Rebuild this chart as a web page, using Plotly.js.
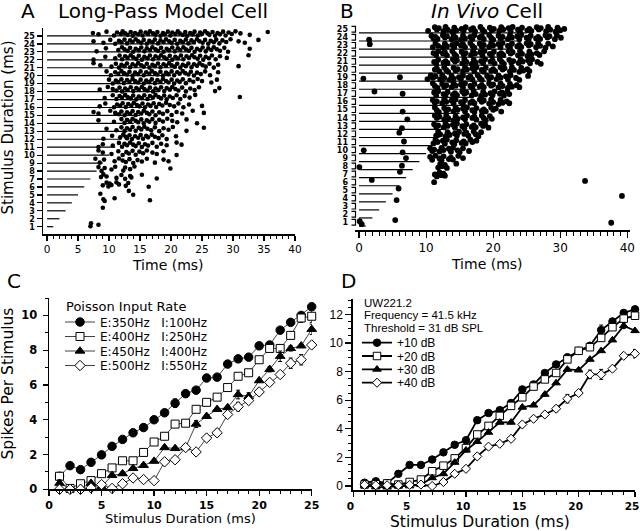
<!DOCTYPE html>
<html><head><meta charset="utf-8">
<script src="https://cdn.plot.ly/plotly-3.0.1.min.js"></script>
<style>html,body{margin:0;padding:0;background:#fff}#chart{width:640px;height:531px}</style>
</head><body><div id="chart"></div>
<script>
// ---------- DATA ----------
const durations = [1,2,3,4,5,6,7,8,9,10,11,12,13,14,15,16,17,18,19,20,21,22,23,24,25];

// Panel A: spike times (ms) per stimulus duration (index 0 = 1 ms)
const spikesA = [
 [7.0,7.1,8.3],
 [],
 [9.0],
 [9.1,9.3,10.9,16.6],
 [8.6,13.2,13.9],
 [9.0,9.6,9.9,10.1,10.4,11.2,11.6,12.7,13.1,16.4],
 [8.7,9.1,9.6,11.2,12.0,12.6,13.4,13.6,15.3,17.7],
 [8.3,8.8,9.3,10.4,11.0,12.3,12.6,13.4,14.1,19.9],
 [7.8,8.5,9.2,10.9,11.6,12.2,12.7,13.3,13.9,14.6,15.3,16.1,17.4,18.8,19.6],
 [8.3,9.0,10.4,11.5,12.2,12.8,13.2,13.8,14.3,14.9,15.5,16.1,17.0,17.7,18.8,20.9],
 [8.3,9.0,10.6,11.6,12.1,12.5,12.9,13.4,13.9,14.3,14.8,15.3,15.8,16.3,17.0,17.7,18.4,19.3,20.9,21.7],
 [9.1,10.5,11.8,12.3,12.7,12.9,13.3,13.7,14.2,14.7,15.1,15.5,16.0,16.3,16.9,17.4,18.0,18.6,19.3,20.8],
 [9.6,11.2,12.0,12.5,12.9,13.4,13.8,14.3,14.8,15.2,15.7,16.2,16.8,17.4,18.1,18.8,19.6,20.3,22.5,25.3],
 [8.3,10.8,12.0,12.5,12.9,13.4,13.8,14.3,14.7,15.2,15.6,16.1,16.5,17.0,17.5,18.1,18.7,19.4,20.2,21.0,22.5,24.2],
 [7.5,8.3,10.2,11.0,11.6,12.0,12.5,12.9,13.4,13.8,14.3,14.7,15.2,15.6,16.1,16.5,17.0,17.5,18.1,18.7,19.4,20.1,20.9,21.8,23.5,25.3],
 [8.5,9.4,10.8,11.3,11.8,12.2,12.7,13.1,13.6,14.0,14.5,14.9,15.4,15.8,16.3,16.7,17.2,17.6,18.1,18.6,19.2,19.8,20.5,21.2,22.0,22.9,25.0],
 [9.3,10.6,11.2,11.7,12.1,12.6,13.0,13.5,13.9,14.4,14.8,15.3,15.7,16.2,16.6,17.1,17.5,18.0,18.4,18.9,19.3,19.8,20.3,20.9,21.5,22.2,23.0,23.9,31.1],
 [8.5,9.8,10.6,11.2,11.7,12.1,12.6,13.0,13.5,13.9,14.4,14.8,15.3,15.7,16.2,16.6,17.1,17.5,18.0,18.4,18.9,19.3,19.8,20.2,20.7,21.2,21.8,22.4,23.1,23.8,24.5,27.1,27.8],
 [10.0,10.6,11.1,11.5,12.0,12.4,12.9,13.3,13.8,14.2,14.7,15.1,15.6,16.0,16.5,16.9,17.4,17.8,18.3,18.7,19.2,19.6,20.1,20.5,21.0,21.4,21.9,22.4,23.0,23.6,24.3,25.0,26.5,27.4],
 [9.6,10.3,11.0,11.5,12.0,12.4,12.9,13.3,13.8,14.2,14.7,15.1,15.6,16.0,16.5,16.9,17.4,17.8,18.3,18.7,19.2,19.6,20.1,20.5,21.0,21.4,21.9,22.3,22.8,23.2,23.7,24.2,24.8,25.5,26.3,27.6],
 [7.5,8.6,10.4,11.1,11.6,12.0,12.5,12.9,13.4,13.8,14.3,14.7,15.2,15.6,16.1,16.5,17.0,17.4,17.9,18.3,18.8,19.2,19.7,20.1,20.6,21.0,21.5,21.9,22.4,22.8,23.3,23.7,24.2,24.6,25.1,25.6,26.2,26.9,27.6,30.9],
 [7.5,9.4,11.0,11.7,12.1,12.6,13.0,13.5,13.9,14.4,14.8,15.3,15.7,16.2,16.6,17.1,17.5,18.0,18.4,18.9,19.3,19.8,20.2,20.7,21.1,21.6,22.0,22.5,22.9,23.4,23.8,24.3,24.7,25.2,25.6,26.1,26.6,27.2,27.9,29.0,32.5],
 [8.0,9.5,11.5,12.1,12.5,13.0,13.4,13.9,14.3,14.8,15.2,15.7,16.1,16.6,17.0,17.5,17.9,18.4,18.8,19.3,19.7,20.2,20.6,21.1,21.5,22.0,22.4,22.9,23.3,23.8,24.2,24.7,25.1,25.6,26.0,26.5,26.9,27.4,27.9,28.6,29.2,32.7],
 [7.5,9.1,10.2,11.0,11.6,12.0,12.5,12.9,13.4,13.8,14.3,14.7,15.2,15.6,16.1,16.5,17.0,17.4,17.9,18.3,18.8,19.2,19.7,20.1,20.6,21.0,21.5,21.9,22.4,22.8,23.3,23.7,24.2,24.6,25.1,25.5,26.0,26.4,26.9,27.3,27.8,28.3,28.9,29.6,30.9,31.9,34.1],
 [7.4,8.3,9.6,10.8,11.3,11.9,12.2,12.6,13.0,13.5,13.8,14.2,14.7,15.1,15.4,15.9,16.3,16.6,17.1,17.5,17.8,18.3,18.7,19.0,19.5,19.9,20.2,20.7,21.1,21.4,21.9,22.3,22.6,23.1,23.5,23.8,24.3,24.7,25.0,25.5,25.9,26.2,26.7,27.1,27.5,27.9,28.4,28.8,29.3,29.8,30.4,31.2,32.7,35.6]
];

// Panel B: in vivo spike times (ms) per stimulus duration (index 0 = 1 ms)
const spikesB = [
 [0.1,0.4,5.4,37.6],
 [],
 [],
 [5.6,39.2],
 [5.9],
 [1.9,11.2,33.7],
 [6.1,11.3,11.6,12.0,12.3,12.6,12.8],
 [0.05,6.4,11.8,12.1,12.4,12.8,13.1,14.5],
 [7.0,10.6,10.9,11.4,12.0,12.3,12.6,13.4,13.7,14.0,14.8,15.5],
 [0.7,6.5,10.6,10.9,11.2,12.0,12.3,12.6,13.4,13.7,14.0,14.7,15.0,15.5,16.4],
 [6.7,11.1,11.4,11.7,12.5,12.8,13.1,13.9,14.2,14.5,15.3,15.6,15.9,16.6,16.9,17.5],
 [6.0,11.5,11.8,12.1,12.9,13.2,13.5,14.3,14.6,14.9,15.7,16.0,16.3,17.1,17.4,17.8,18.2],
 [6.4,11.2,11.5,11.8,12.6,12.9,13.2,14.0,14.3,14.6,15.4,15.7,16.0,16.8,17.1,17.4,18.2,18.5,18.8,19.3],
 [7.2,11.3,11.6,12.0,12.7,13.0,13.3,14.1,14.4,14.7,15.5,15.8,16.1,16.9,17.2,17.5,18.3,18.6,18.9,19.5,19.8],
 [6.5,11.3,11.6,11.9,12.7,13.0,13.3,14.1,14.4,14.7,15.5,15.8,16.1,16.9,17.2,17.5,18.3,18.6,18.9,19.7,20.0,20.4,21.2],
 [11.0,11.3,11.6,12.4,12.7,13.0,13.8,14.1,14.4,15.2,15.5,15.8,16.6,16.9,17.2,18.0,18.3,18.6,19.4,19.7,20.0,20.8,21.1,21.4,22.0,22.4],
 [2.3,6.5,11.2,11.5,11.8,12.6,12.9,13.2,14.0,14.3,14.6,15.4,15.7,16.0,16.8,17.1,17.4,18.2,18.5,18.8,19.6,19.9,20.2,21.0,21.3,21.6,22.1,22.4],
 [11.0,11.3,11.7,12.4,12.7,13.0,13.8,14.1,14.4,15.2,15.5,15.8,16.6,16.9,17.2,18.0,18.3,18.6,19.4,19.7,20.0,20.8,21.1,21.4,22.2,22.5,22.8,23.5,23.9],
 [0.65,6.1,10.2,10.7,11.0,11.4,12.1,12.4,12.7,13.5,13.8,14.1,14.9,15.2,15.5,16.3,16.6,16.9,17.7,18.0,18.3,19.1,19.4,19.7,20.5,20.8,21.1,21.9,22.2,22.6,23.4,23.9,25.2],
 [11.3,11.6,12.0,12.7,13.0,13.3,14.1,14.4,14.7,15.5,15.8,16.1,16.9,17.2,17.5,18.3,18.6,18.9,19.7,20.0,20.3,21.1,21.4,21.7,22.5,22.8,23.1,23.9,24.2,24.5,25.1,25.4],
 [11.2,11.5,11.8,12.6,12.9,13.2,14.0,14.3,14.6,15.4,15.7,16.0,16.8,17.1,17.4,18.2,18.5,18.8,19.6,19.9,20.2,21.0,21.3,21.6,22.4,22.7,23.0,23.8,24.1,24.4,25.2,25.5,25.8,26.6,27.1],
 [11.1,11.5,11.8,12.5,12.8,13.1,13.9,14.2,14.5,15.3,15.6,15.9,16.7,17.0,17.3,18.1,18.4,18.7,19.5,19.8,20.1,20.9,21.2,21.5,22.3,22.6,22.9,23.7,24.0,24.3,25.1,25.4,25.7,26.5,26.9,27.6],
 [1.6,11.0,11.4,11.8,12.5,12.8,13.1,13.9,14.2,14.5,15.2,15.5,15.8,16.6,16.9,17.2,18.0,18.3,18.6,19.4,19.7,20.0,20.8,21.1,21.4,22.2,22.5,22.8,23.6,23.9,24.2,25.0,25.3,25.6,26.4,26.7,27.0,27.8,28.2,28.9],
 [1.5,10.8,11.1,11.4,11.7,12.5,12.8,13.1,13.8,14.1,14.4,15.2,15.5,15.8,16.6,16.9,17.2,18.0,18.3,18.6,19.4,19.7,20.0,20.8,21.1,21.4,22.2,22.5,22.8,23.6,23.9,24.2,25.0,25.3,25.6,26.4,26.7,27.0,27.8,28.1,28.4,29.2,29.5,30.1],
 [10.3,11.3,11.6,11.9,12.6,12.9,13.2,13.9,14.2,14.5,15.3,15.6,15.9,16.7,17.0,17.3,18.1,18.4,18.7,19.5,19.8,20.1,20.9,21.2,21.5,22.3,22.6,22.9,23.7,24.0,24.3,25.1,25.4,25.7,26.5,26.8,27.1,27.9,28.2,28.5,29.3,29.6,30.0,30.6]
];

// Panel C: model cell spikes per stimulus
const durC = [1,2,3,4,5,6,7,8,9,10,11,12,13,14,15,16,17,18,19,20,21,22,23,24,25];
const legendTitleC = 'Poisson Input Rate';
const namesC = ['E:350Hz\u00a0\u00a0\u00a0I:100Hz','E:400Hz\u00a0\u00a0\u00a0I:250Hz','E:450Hz\u00a0\u00a0\u00a0I:400Hz','E:500Hz\u00a0\u00a0\u00a0I:550Hz'];
const cE350 = [0.75,1.36,1.13,1.55,1.98,2.47,2.87,3.25,3.55,4.0,4.4,4.95,5.5,5.7,6.4,6.45,7.2,7.5,7.6,8.25,8.3,9.15,9.6,10.0,10.5];
const cE400 = [0.75,0.05,0.32,0.5,0.9,1.23,1.64,1.64,2.12,2.72,3.05,3.75,3.8,4.6,5.0,5.3,5.85,6.5,6.7,7.45,8.1,8.1,8.85,9.85,9.95];
const cE450 = [0.35,0.05,0.05,0.35,0.15,0.8,0.9,1.2,1.38,1.62,2.4,2.35,2.4,3.75,4.2,4.6,4.7,5.45,5.35,6.25,6.9,7.65,8.1,8.25,9.2];
const cE500 = [0.0,0.0,0.0,0.08,0.27,0.05,0.32,0.65,0.56,0.5,1.58,1.7,2.4,2.15,2.95,3.25,4.3,4.75,5.1,5.6,6.15,6.6,7.25,7.45,8.3];
const cE350err = [0.1,0.1,0.1,0.1,0.1,0.1,0.1,0.1,0.1,0.1,0.1,0.25,0.1,0.15,0.2,0.1,0.1,0.1,0.1,0.1,0.1,0.1,0.1,0.1,0.1];
const cE400err = [0.1,0.1,0.1,0.1,0.1,0.1,0.1,0.1,0.1,0.1,0.1,0.1,0.1,0.1,0.1,0.1,0.1,0.1,0.1,0.1,0.1,0.1,0.2,0.25,0.35];
const cE450err = [0.2,0.1,0.1,0.1,0.1,0.1,0.1,0.1,0.1,0.1,0.1,0.1,0.1,0.2,0.1,0.1,0.1,0.25,0.2,0.1,0.15,0.3,0.15,0.1,0.3];
const cE500err = [0.05,0.05,0.05,0.05,0.05,0.05,0.05,0.05,0.1,0.1,0.1,0.15,0.1,0.1,0.15,0.2,0.15,0.25,0.15,0.15,0.15,0.1,0.3,0.3,0.1];

// Panel D: in vivo spikes per stimulus
const durD = [1,2,3,4,5,6,7,8,9,10,11,12,13,14,15,16,17,18,19,20,21,22,23,24,25];
const legendTitleD = ['UW221.2','Frequency = 41.5 kHz','Threshold = 31 dB SPL'];
const namesD = ['+10 dB','+20 dB','+30 dB','+40 dB'];
const d10 = [0.23,0.33,0.2,0.85,1.47,1.47,1.85,2.35,2.88,3.2,4.6,5.1,5.3,5.8,6.75,7.1,7.9,8.5,9.0,9.45,9.8,10.9,11.5,12.1,12.35];
const d20 = [0.1,0.12,0.18,0.1,0.28,0.45,1.03,1.42,1.93,2.65,3.6,4.2,4.9,5.6,6.2,6.95,7.45,7.9,8.85,9.45,9.7,10.35,11.1,11.7,11.9];
const d30 = [0.05,-0.07,-0.08,0.0,0.0,0.1,0.57,0.85,1.65,2.5,3.1,3.75,4.45,4.45,5.5,5.65,6.4,7.2,8.15,8.1,8.85,9.45,10.2,11.2,10.85];
const d40 = [0.08,0.05,0.05,0.05,0.08,0.1,0.0,0.28,0.85,1.2,2.07,2.75,2.95,3.3,4.3,4.7,5.0,5.4,6.1,6.5,7.8,7.8,8.2,9.1,9.25];
const d10err = [0.1,0.1,0.1,0.1,0.1,0.1,0.1,0.1,0.1,0.1,0.1,0.1,0.1,0.1,0.1,0.1,0.1,0.1,0.1,0.1,0.1,0.35,0.1,0.1,0.1];
const d20err = [0.1,0.1,0.1,0.1,0.1,0.1,0.1,0.1,0.1,0.1,0.1,0.1,0.15,0.1,0.1,0.1,0.2,0.1,0.1,0.1,0.1,0.1,0.1,0.2,0.25];
const d30err = [0.1,0.1,0.1,0.1,0.1,0.1,0.1,0.1,0.1,0.1,0.1,0.1,0.1,0.1,0.1,0.1,0.1,0.1,0.1,0.1,0.1,0.1,0.1,0.2,0.1];
const d40err = [0.05,0.05,0.05,0.05,0.05,0.05,0.05,0.05,0.1,0.1,0.1,0.1,0.1,0.1,0.1,0.1,0.15,0.2,0.3,0.15,0.3,0.35,0.15,0.1,0.3];

// ---------- LAYOUT HELPERS ----------
const W = 640, H = 531;
const px = v => v / W;          // pixel -> paper x
const py = v => 1 - v / H;      // pixel -> paper y
const FONT = 'DejaVu Sans';
// trial (sub-row) offsets within each raster row
const jitterA = [0.06, 0.44, 0.24, 0.58, 0.32, 0.14, 0.50, 0.02, 0.38, 0.20, 0.54];
const jitterB = [0.14, -0.24, 0.28, -0.06, -0.30, 0.20, -0.14, 0.04, -0.20, 0.26, -0.02];
const lineOffsetB = -0.46;

function rasterTrace(spikes, jit, xa, ya, size) {
  const xs = [], ys = [];
  spikes.forEach((row, i) => row.forEach((t, j) => {
    xs.push(t); ys.push(durations[i] + jit[(j + 4 * i) % jit.length]);
  }));
  return {type:'scatter', mode:'markers', x:xs, y:ys, xaxis:xa, yaxis:ya, showlegend:false, hoverinfo:'skip',
    marker:{color:'black', size:size, line:{width:0}}, cliponaxis:false};
}
function stimLines(off, xa, ya, w) {
  const xs = [], ys = [];
  durations.forEach(d => { xs.push(0, d, null); ys.push(d + off, d + off, null); });
  return {type:'scatter', mode:'lines', x:xs, y:ys, xaxis:xa, yaxis:ya, showlegend:false, hoverinfo:'skip',
    line:{color:'black', width:w}};
}
function series(x, y, err, name, sym, fill, size, xa, ya, lg, lw, lc) {
  return {type:'scatter', mode:'lines+markers', x:x, y:y, name:name, xaxis:xa, yaxis:ya, legend:lg,
    line:{color:lc, width:lw}, cliponaxis:false,
    marker:{symbol:sym, size:size, color:fill, line:{color:'black', width:1}},
    error_y:{type:'data', array:err, visible:true, color:'black', thickness:1, width:2}};
}

const traces = [
  stimLines(0, 'x', 'y', 1.2),
  rasterTrace(spikesA, jitterA, 'x', 'y', 4.6),
  stimLines(lineOffsetB, 'x2', 'y2', 1.2),
  rasterTrace(spikesB, jitterB, 'x2', 'y2', 5.8),
  series(durC, cE350, cE350err, namesC[0], 'circle', 'black', 8.5, 'x3', 'y3', 'legend', 1, '#444'),
  series(durC, cE400, cE400err, namesC[1], 'square', 'white', 8, 'x3', 'y3', 'legend2', 1, '#444'),
  series(durC, cE450, cE450err, namesC[2], 'triangle-up', 'black', 8.5, 'x3', 'y3', 'legend3', 1, '#444'),
  series(durC, cE500, cE500err, namesC[3], 'diamond', 'white', 8, 'x3', 'y3', 'legend4', 1, '#444'),
  series(durD, d10, d10err, namesD[0], 'circle', 'black', 7.5, 'x4', 'y4', 'legend5', 1.8, 'black'),
  series(durD, d20, d20err, namesD[1], 'square', 'white', 7.5, 'x4', 'y4', 'legend6', 1.8, 'black'),
  series(durD, d30, d30err, namesD[2], 'triangle-up', 'black', 7.5, 'x4', 'y4', 'legend7', 1.8, 'black'),
  series(durD, d40, d40err, namesD[3], 'diamond', 'white', 7, 'x4', 'y4', 'legend8', 1.8, 'black')
];

function ax(extra) {
  return Object.assign({showgrid:false, zeroline:false, showline:true, linecolor:'black', linewidth:1.5,
    ticks:'outside', tickcolor:'black', tickwidth:1.2, ticklen:5, fixedrange:true, ticklabeloverflow:'allow'}, extra);
}

const bracketShapes = durations.map(d => ({
  type:'path', xref:'paper', yref:'y2',
  path:`M ${px(351.5)},${d + 0.35} L ${px(355.5)},${d + 0.35} L ${px(355.5)},${d - 0.35} L ${px(351.5)},${d - 0.35}`,
  line:{color:'black', width:1.2}
}));

function ann(text, x, y, size, extra) {
  return Object.assign({text:text, xref:'paper', yref:'paper', x:px(x), y:py(y), xanchor:'center', yanchor:'middle',
    showarrow:false, font:{family:FONT, size:size, color:'black'}}, extra || {});
}

function oneLegend(x, y, fam) {
  return {x:px(x), y:py(y), xanchor:'left', yanchor:'middle', bgcolor:'rgba(0,0,0,0)', borderwidth:0,
    font:{family:fam, size:12, color:'black'}};
}
const fontD = {family:'Liberation Sans', size:11.5, color:'black'};

const layout = {
  width:W, height:H, margin:{l:0, r:0, t:0, b:0}, paper_bgcolor:'white', plot_bgcolor:'white',
  hovermode:false, showlegend:true,
  xaxis: ax({domain:[px(43), px(295)], range:[-0.65, 40], anchor:'y', tickmode:'linear', tick0:0, dtick:5,
    minor:{dtick:1, ticklen:3, ticks:'outside', tickcolor:'black', tickwidth:1},
    tickfont:{family:FONT, size:10.5, color:'black'}}),
  yaxis: ax({domain:[py(234), py(28)], range:[0.08, 26], anchor:'x', tickmode:'array', tickvals:durations,
    ticktext:durations.map(String), ticklen:5, tickfont:{family:FONT, size:8, weight:'bold', color:'black'}}),
  xaxis2: ax({domain:[px(355), px(630)], range:[-0.6, 40.4], anchor:'y2', tickmode:'linear', tick0:0, dtick:10, ticklen:6,
    linewidth:2, minor:{dtick:1, ticklen:4, ticks:'outside', tickcolor:'black', tickwidth:1},
    tickfont:{family:FONT, size:12, color:'black'}}),
  yaxis2: ax({domain:[py(230), py(22)], range:[0.04, 25.9], anchor:'x2', showline:false, ticks:'', tickmode:'array',
    tickvals:durations, ticktext:durations.map(String), ticklabelstandoff:6,
    tickfont:{family:FONT, size:8, weight:'bold', color:'black'}}),
  xaxis3: ax({domain:[px(49), px(311.7)], range:[0, 25], anchor:'y3', tickmode:'linear', tick0:0, dtick:5,
    minor:{dtick:1, ticklen:3, ticks:'outside', tickcolor:'black', tickwidth:1},
    tickfont:{family:FONT, size:11, weight:'bold', color:'black'}}),
  yaxis3: ax({domain:[py(489.3), py(298)], range:[0, 11], anchor:'x3', tickmode:'linear', tick0:0, dtick:2,
    ticklabelstandoff:3,
    minor:{dtick:1, ticklen:3, ticks:'outside', tickcolor:'black', tickwidth:1},
    tickfont:{family:FONT, size:11.5, weight:'bold', color:'black'}}),
  xaxis4: ax({domain:[px(353.3), px(635)], range:[0, 25], anchor:'y4', tickmode:'linear', tick0:0, dtick:5,
    linewidth:2, ticklabelshift:-3,
    minor:{dtick:1, ticklen:3, ticks:'outside', tickcolor:'black', tickwidth:1},
    tickfont:{family:FONT, size:10.5, weight:'bold', color:'black'}}),
  yaxis4: ax({domain:[py(490), py(299)], range:[-0.28, 13.07], anchor:'x4', tickmode:'linear', tick0:0, dtick:2, linewidth:2,
    ticklen:6, minor:{dtick:0.5, ticklen:3, ticks:'outside', tickcolor:'black', tickwidth:1},
    tickfont:{family:'Liberation Sans', size:12, color:'black'}}),
  legend:  oneLegend(60, 322, FONT),
  legend2: oneLegend(60, 336.5, FONT),
  legend3: oneLegend(60, 351, FONT),
  legend4: oneLegend(60, 365.5, FONT),
  legend5: oneLegend(357, 342.7, 'Liberation Sans'),
  legend6: oneLegend(357, 356, 'Liberation Sans'),
  legend7: oneLegend(357, 369.3, 'Liberation Sans'),
  legend8: oneLegend(357, 382.7, 'Liberation Sans'),
  shapes: bracketShapes,
  annotations: [
    ann('A', 27.5, 11, 20),
    ann('Long-Pass Model Cell', 162.5, 11, 20),
    ann('B', 346.5, 11, 20),
    ann('<i>In Vivo</i> Cell', 487, 11, 20),
    ann('C', 13.5, 281, 20),
    ann('D', 348.5, 281, 20),
    ann('Time (ms)', 168, 264.5, 14),
    ann('Time (ms)', 487, 263.5, 14),
    ann('Stimulus Duration (ms)', 7.5, 128, 15, {textangle:-90}),
    ann('Spikes Per Stimulus', 7.5, 384, 15.5, {textangle:-90}),
    ann('Stimulus Duration (ms)', 180, 518, 13),
    ann('Stimulus Duration (ms)', 480, 522, 15.5),
    ann(legendTitleC, 64, 306, 13, {xanchor:'left'}),
    ann(legendTitleD[0], 361.5, 302.5, 11.5, {xanchor:'left', font:fontD}),
    ann(legendTitleD[1], 361.5, 315, 11.5, {xanchor:'left', font:fontD}),
    ann(legendTitleD[2], 361.5, 327.5, 11.5, {xanchor:'left', font:fontD})
  ]
};

Plotly.newPlot('chart', traces, layout, {staticPlot:true, displayModeBar:false});
</script>
</body></html>
